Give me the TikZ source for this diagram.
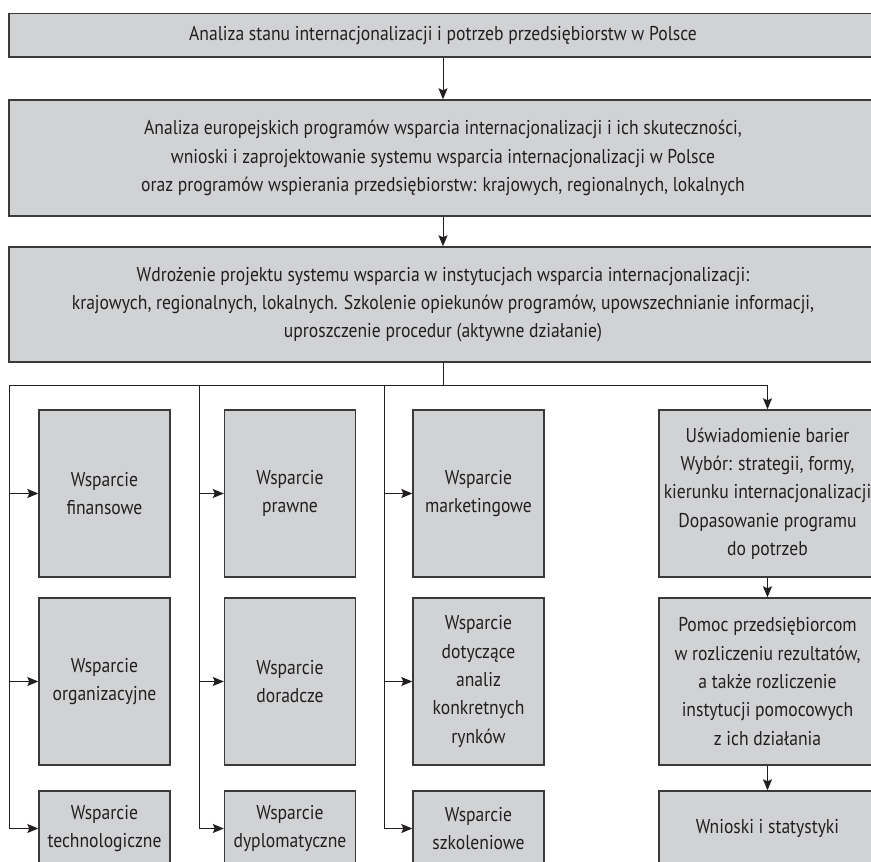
\documentclass[tikz,border=0pt]{standalone}
\usepackage{fontspec}
\setmainfont{PT Sans}[FakeStretch=0.88]
\usetikzlibrary{arrows.meta}
\definecolor{boxfill}{HTML}{D1D2D4}
\definecolor{boxline}{HTML}{3A3A3A}
\definecolor{ink}{HTML}{231F20}
\newcommand{\boxfont}{\fontsize{20}{28.3}\selectfont}
\tikzset{
  box/.style={draw=boxline, fill=boxfill, line width=1.4pt, align=center,
    inner sep=0pt, text=ink, font=\boxfont},
  wide/.style={box, minimum width=868pt},
  colbox/.style={box, minimum width=131pt},
  sidebox/.style={box, minimum width=217pt},
  tall/.style={minimum height=167pt},
  short/.style={minimum height=75pt},
  link/.style={draw=ink, line width=1pt},
  arr/.style={link, -{Stealth[length=11pt, width=9pt, inset=2pt]}},
}
\begin{document}
\begin{tikzpicture}[x=1pt, y=-1pt]
\useasboundingbox (0,0) rectangle (871,862);
\clip (0,0) rectangle (871,862);

% top stages
\node[wide, minimum height=43.5pt] (top) at (443,35.3)
  {Analiza stanu internacjonalizacji i potrzeb przedsiębiorstw w Polsce};
\node[wide, minimum height=116pt] (mid) at (443,158)
  {Analiza europejskich programów wsparcia internacjonalizacji i ich skuteczności,\\
   wnioski i zaprojektowanie systemu wsparcia internacjonalizacji w Polsce\\
   oraz programów wspierania przedsiębiorstw: krajowych, regionalnych, lokalnych};
\node[wide, minimum height=115pt] (impl) at (443,304.5)
  {Wdrożenie projektu systemu wsparcia w instytucjach wsparcia internacjonalizacji:\\
   krajowych, regionalnych, lokalnych. Szkolenie opiekunów programów, upowszechnianie informacji,\\
   uproszczenie procedur (aktywne działanie)};

% column 1
\node[colbox, tall]  (fin)  at (104.5,493.5) {Wsparcie\\finansowe};
\node[colbox, tall]  (org)  at (104.5,681.5) {Wsparcie\\organizacyjne};
\node[colbox, short] (tech) at (104.5,828.5) {Wsparcie\\technologiczne};

% column 2
\node[colbox, tall]  (praw) at (290,493.5) {Wsparcie\\prawne};
\node[colbox, tall]  (dor)  at (290,681.5) {Wsparcie\\doradcze};
\node[colbox, short] (dypl) at (290,828.5) {Wsparcie\\dyplomatyczne};

% column 3
\node[colbox, tall]  (mark) at (478.5,493.5) {Wsparcie\\marketingowe};
\node[colbox, tall]  (dot)  at (478.5,681.5)
  {Wsparcie\\dotyczące\\analiz\\konkretnych\\rynków};
\node[colbox, short] (szk)  at (478.5,828.5) {Wsparcie\\szkoleniowe};

% right column
\node[sidebox, tall]  (bar) at (767.5,493.5)
  {Uświadomienie barier\\Wybór: strategii, formy,\\kierunku internacjonalizacji\\
   Dopasowanie programu\\do potrzeb};
\node[sidebox, tall]  (pom) at (767.5,681.5)
  {Pomoc przedsiębiorcom\\w rozliczeniu rezultatów,\\a także rozliczenie\\
   instytucji pomocowych\\z ich działania};
\node[sidebox, short] (wn)  at (767.5,828.5) {Wnioski i statystyki};

% distribution bus
\coordinate (busL) at (9,385);
\coordinate (bus2) at (199,385);
\coordinate (bus3) at (384,385);
\coordinate (busR) at (bar.north |- busL);

\draw[arr] (top) -- (mid);
\draw[arr] (mid) -- (impl);
\draw[link] (impl.south) -- (impl.south |- busL);
\draw[link] (busL) -- (busR);
\draw[arr] (busR) -- (bar.north);

\draw[arr] (busL) |- (tech.west);
\draw[arr] (busL |- fin.west) -- (fin.west);
\draw[arr] (busL |- org.west) -- (org.west);

\draw[arr] (bus2) |- (dypl.west);
\draw[arr] (bus2 |- praw.west) -- (praw.west);
\draw[arr] (bus2 |- dor.west) -- (dor.west);

\draw[arr] (bus3) |- (szk.west);
\draw[arr] (bus3 |- mark.west) -- (mark.west);
\draw[arr] (bus3 |- dot.west) -- (dot.west);

\draw[arr] (bar) -- (pom);
\draw[arr] (pom) -- (wn);
\end{tikzpicture}
\end{document}
